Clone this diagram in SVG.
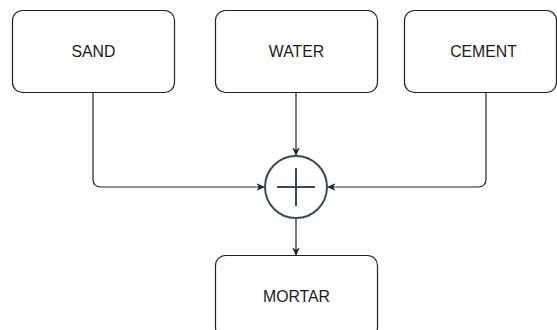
<svg xmlns="http://www.w3.org/2000/svg" width="557" height="330" viewBox="0 0 557 330">
<style>
.box{fill:#fff;stroke:#222;stroke-width:1.2}
.lbl{font-family:"Liberation Sans",Arial,sans-serif;font-size:15.8px;fill:#1a1a1a;text-anchor:middle;dominant-baseline:central}
.edge{fill:none;stroke:#222;stroke-width:1.2}
.op{fill:#fff;stroke:#3b4858;stroke-width:2}
.plus{stroke:#3b4858;stroke-width:2;fill:none}
</style>
<defs>
<marker id="arr" viewBox="0 0 10 10" refX="9.5" refY="5" markerWidth="8" markerHeight="8" markerUnits="userSpaceOnUse" orient="auto">
<path d="M1,1 L9.5,5 L1,9 L3.5,5 Z" fill="#222" stroke="#222" stroke-width="0.8" stroke-linejoin="round"/>
</marker>
</defs>
<rect width="557" height="330" fill="#fff"/>
<g id="connectors">
<path class="edge" d="M93,92 V179 Q93,187 101,187 H264" marker-end="url(#arr)"/>
<path class="edge" d="M296,92 V155" marker-end="url(#arr)"/>
<path class="edge" d="M486,92 V179 Q486,187 478,187 H328" marker-end="url(#arr)"/>
<path class="edge" d="M296,219 V255" marker-end="url(#arr)"/>
</g>
<g id="sand"><rect class="box" x="12.5" y="10.5" width="162" height="82" rx="10"/><text class="lbl" x="93.5" y="51.5">SAND</text></g>
<g id="water"><rect class="box" x="215.5" y="10.5" width="162" height="82" rx="10"/><text class="lbl" x="296.5" y="51.5">WATER</text></g>
<g id="cement"><rect class="box" x="404.5" y="10.5" width="152" height="82" rx="10"/><text class="lbl" x="483.5" y="51.5">CEMENT</text></g>
<g id="mix"><circle class="op" cx="296" cy="187" r="31"/><path class="plus" d="M277,187 H315 M296,168 V206"/></g>
<g id="mortar"><rect class="box" x="215.5" y="255.5" width="162" height="82" rx="10"/><text class="lbl" x="296.5" y="296">MORTAR</text></g>
</svg>
